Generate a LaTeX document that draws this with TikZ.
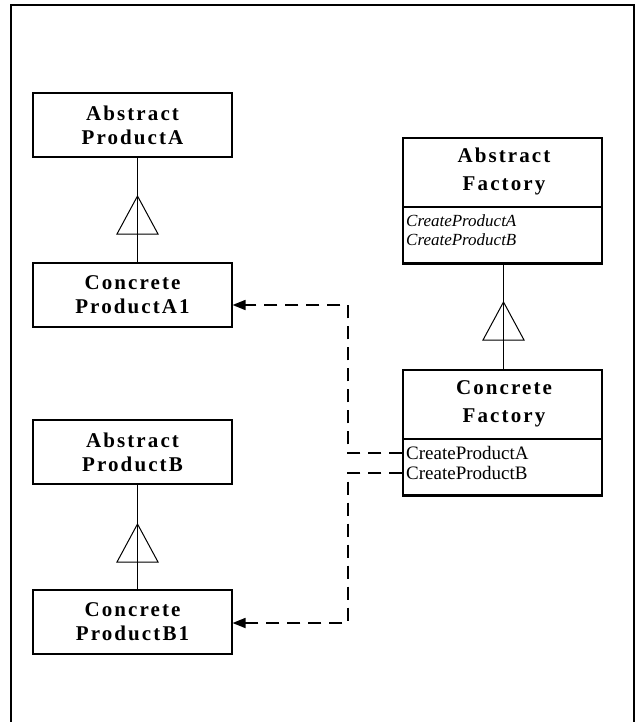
\documentclass[tikz,border=0pt]{standalone}
\usepackage{fontspec}
\setmainfont{Liberation Serif}
\newfontfamily\hdrfont[LetterSpace=10]{Liberation Serif}
\usetikzlibrary{arrows.meta}
\begin{document}
\begin{tikzpicture}[x=1pt,y=-1pt,
  classbox/.style={draw, line width=1.1pt, minimum width=199pt, inner sep=0pt},
  prodbox/.style={classbox, minimum height=64pt, align=center,
    font=\hdrfont\bfseries\fontsize{21}{24}\selectfont},
  facbox/.style={classbox, minimum height=125pt},
  facname/.style={inner sep=0pt, align=center,
    font=\hdrfont\bfseries\fontsize{21}{28}\selectfont},
  oper/.style={anchor=west, inner sep=0pt, font=\fontsize{19}{20}\selectfont},
  opitalic/.style={oper, font=\itshape\fontsize{17}{20}\selectfont},
  inherit/.style={line width=0.9pt},
  gentri/.style={draw, line width=1pt, fill=white},
  dep/.style={line width=1.7pt, dash pattern=on 13pt off 8pt,
    -{Triangle[length=13pt,width=10pt]}},
]
\useasboundingbox (0,0) rectangle (640,722);

% outer frame (open at the bottom)
\draw[line width=2.6pt] (11,722) -- (11,5) -- (634,5) -- (634,722);

% product hierarchy A
\node[prodbox] (apa)  at (132.5,125) {Abstract\\ProductA};
\node[prodbox] (cpa1) at (132.5,295) {Concrete\\ProductA1};
% product hierarchy B
\node[prodbox] (apb)  at (132.5,452) {Abstract\\ProductB};
\node[prodbox] (cpb1) at (132.5,622) {Concrete\\ProductB1};

% factory classes
\node[facbox] (af) at (502.5,200.5) {};
\node[facname] (afname) at (504,171.5) {Abstract\\Factory};
\draw[line width=1.1pt] (af.west |- 0,207) -- (af.east |- 0,207);
\draw[line width=2pt] (af.south west) -- (af.south east);
\node[opitalic] (afa) at (406,221) {CreateProductA};
\node[opitalic] (afb) at (406,240) {CreateProductB};

\node[facbox] (cf) at (502.5,432.5) {};
\node[facname] (cfname) at (504,404) {Concrete\\Factory};
\draw[line width=1.1pt] (cf.west |- 0,439) -- (cf.east |- 0,439);
\draw[line width=2.8pt] (cf.south west) -- (cf.south east);
\draw[line width=1.8pt] (cf.south east) -- (cf.north east);
\node[oper] (cfa) at (406,453) {CreateProductA};
\node[oper] (cfb) at (406,473) {CreateProductB};

% generalisation markers
\coordinate (ta) at (137.5,196);
\coordinate (tb) at (137.5,524);
\coordinate (tf) at (503.5,302);
\foreach \t in {ta,tb,tf}{
  \draw[gentri] (\t) -- ++(-20.5,38) -- ++(41,0) -- cycle;
}
\draw[inherit] (apa.south -| ta) -- (ta);
\draw[inherit] ([yshift=38pt]ta) -- (cpa1.north -| ta);
\draw[inherit] (apb.south -| tb) -- (tb);
\draw[inherit] ([yshift=38pt]tb) -- (cpb1.north -| tb);
\draw[inherit, line width=1.3pt] (af.south -| tf) -- (tf);
\draw[inherit, line width=1.3pt] ([yshift=38pt]tf) -- (cf.north -| tf);

% creation dependencies
\draw[dep] (cf.west |- cfa) -- (348,453) -- (348,305) -- (cpa1.east |- 0,305);
\draw[dep] (cf.west |- cfb) -- (348,473) -- (348,623) -- (cpb1.east |- 0,623);
\end{tikzpicture}
\end{document}
